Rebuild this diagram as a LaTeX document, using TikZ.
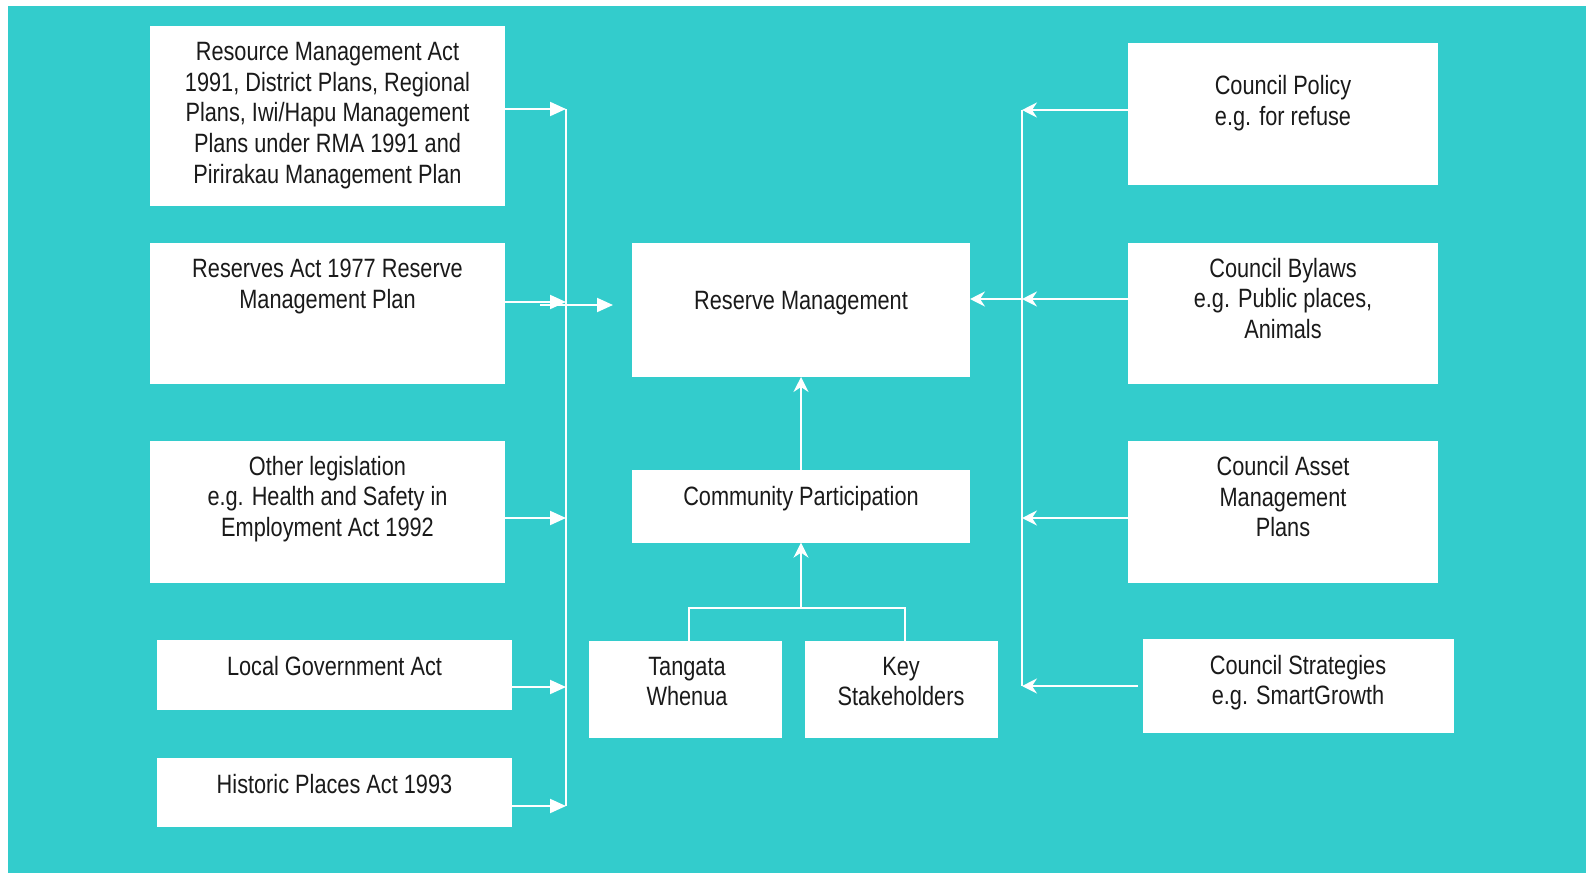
\documentclass[tikz,border=0pt]{standalone}
\usepackage{fontspec}
\setmainfont{Liberation Sans}[FakeStretch=0.82]
\usetikzlibrary{arrows.meta}
\definecolor{bgteal}{HTML}{33CCCC}
\definecolor{txtcol}{HTML}{1A1A1A}
\begin{document}
\begin{tikzpicture}[x=1bp,y=-1bp,
  box/.style={fill=white,draw=none,inner sep=0pt,outer sep=0pt},
  txt/.style={align=center,inner sep=0pt,text=txtcol,font=\fontsize{26.5bp}{30.6bp}\selectfont},
  wire/.style={draw=white,line width=2bp},
  tri/.style={wire,-{Triangle[length=16bp,width=14bp]}},
  chev/.style={wire,-{Stealth[length=15bp,width=15bp,inset=5bp]}}]
\useasboundingbox (0,0) rectangle (1586,873);
\fill[bgteal] (8,6) rectangle (1586,873);

% left boxes
\node[box,minimum width=355bp,minimum height=180bp] (rma) at (327.5,116) {};
\node[txt] (rmat) at (327.5,115.5) {Resource Management Act\\1991, District Plans, Regional\\Plans, Iwi/Hapu Management\\Plans under RMA 1991 and\\Pirirakau Management Plan};
\node[box,minimum width=355bp,minimum height=141bp] (res) at (327.5,313.5) {};
\node[txt] (rest) at (327.5,286.5) {Reserves Act 1977 Reserve\\Management Plan};
\node[box,minimum width=355bp,minimum height=142bp] (oth) at (327.5,512) {};
\node[txt] (otht) at (327.5,499) {Other legislation\\e.g. Health and Safety in\\Employment Act 1992};
\node[box,minimum width=355bp,minimum height=70bp] (lga) at (334.5,675) {};
\node[txt] (lgat) at (334.5,666) {Local Government Act};
\node[box,minimum width=355bp,minimum height=69bp] (hpa) at (334.5,792.5) {};
\node[txt] (hpat) at (334.5,784) {Historic Places Act 1993};

% centre boxes
\node[box,minimum width=338bp,minimum height=134bp] (rm) at (801,310) {};
\node[txt] (rmt) at (801,303.5) {Reserve Management};
\node[box,minimum width=338bp,minimum height=72.7bp] (cp) at (801,506.3) {};
\node[txt] (cpt) at (801,498.6) {Community Participation};
\node[box,minimum width=193bp,minimum height=96.7bp] (tw) at (685.5,689.3) {};
\node[txt] (twt) at (687,681.7) {Tangata\\Whenua};
\node[box,minimum width=193bp,minimum height=96.7bp] (ks) at (901.5,689.3) {};
\node[txt] (kst) at (901,681.7) {Key\\Stakeholders};

% right boxes
\node[box,minimum width=310bp,minimum height=142bp] (cpol) at (1283,114) {};
\node[txt] (cpolt) at (1283,103) {Council Policy\\e.g. for refuse};
\node[box,minimum width=310bp,minimum height=141bp] (cbyl) at (1283,313.5) {};
\node[txt] (cbylt) at (1283,298.4) {Council Bylaws\\e.g. Public places,\\Animals};
\node[box,minimum width=310bp,minimum height=142bp] (case) at (1283,512) {};
\node[txt] (caset) at (1283,496.6) {Council Asset\\Management\\Plans};
\node[box,minimum width=311bp,minimum height=94bp] (cstr) at (1298.5,686) {};
\node[txt] (cstrt) at (1298,682.7) {Council Strategies\\e.g. SmartGrowth};

% left bus
\coordinate (lb1) at (566,109);
\coordinate (lb2) at (566,302);
\coordinate (lb3) at (566,518);
\coordinate (lb4) at (566,687);
\coordinate (lb5) at (566,806);
\coordinate (lbs) at (540,305);
\coordinate (rmin) at (613,305);
\draw[wire] (lb1) -- (lb5);
\draw[tri] (rma.east |- lb1) -- (lb1);
\draw[tri] (res.east |- lb2) -- (lb2);
\draw[tri] (oth.east |- lb3) -- (lb3);
\draw[tri] (lga.east |- lb4) -- (lb4);
\draw[tri] (hpa.east |- lb5) -- (lb5);
\draw[tri] (lbs) -- (rmin);

% right bus
\coordinate (rb1) at (1022,110);
\coordinate (rb2) at (1022,299);
\coordinate (rb3) at (1022,518);
\coordinate (rb4) at (1022,686);
\coordinate (cstrs) at (1138,686);
\draw[wire] (rb1) -- (rb4);
\draw[chev] (cpol.west |- rb1) -- (rb1);
\draw[chev] (cbyl.west |- rb2) -- (rb2);
\draw[chev] (case.west |- rb3) -- (rb3);
\draw[chev] (cstrs) -- (rb4);
\draw[chev] (rb2) -- (rm.east |- rb2);

% centre
\coordinate (j1) at (689,608);
\coordinate (j2) at (905,608);
\coordinate (jc) at (801,608);
\draw[wire] (tw.north -| j1) -- (j1) -- (j2) -- (ks.north -| j2);
\draw[chev] (jc) -- (cp.south);
\draw[chev] (cp.north) -- (rm.south);
\end{tikzpicture}
\end{document}
